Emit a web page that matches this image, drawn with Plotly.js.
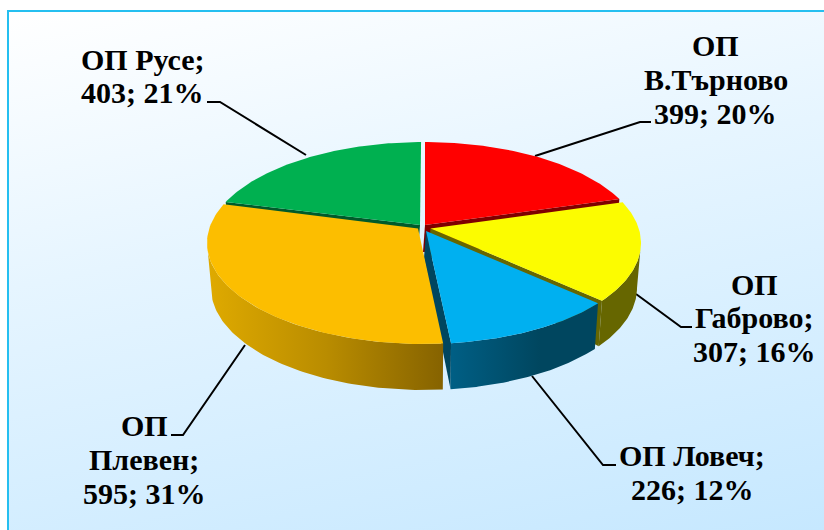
<!DOCTYPE html>
<html>
<head>
<meta charset="utf-8">
<script src="https://cdn.plot.ly/plotly-3.0.0.min.js"></script>
<style>
html,body{margin:0;padding:0;background:#fff;overflow:hidden}
#frame{position:absolute;left:7px;top:10px;width:817px;height:520px;box-sizing:border-box;
 border-left:2px solid #25bff0;border-top:2px solid #25bff0;
 background:linear-gradient(168deg,#ffffff 0%,#e6f5ff 40%,#c6e8ff 100%)}
#chart{position:absolute;left:0;top:0;width:824px;height:530px}
</style>
</head>
<body>
<div id="frame"></div>
<div id="chart"></div>
<script>
// ---- data ----
const categories = [['ОП', 'В.Търново'], ['ОП', 'Габрово;'], ['ОП Ловеч;'], ['ОП', 'Плевен;'], ['ОП Русе;']];
const values = [399, 307, 226, 595, 403];
const percents = [20, 16, 12, 31, 21];

// ---- drawing styles ----
const topColors = ['#ff0000', '#fcfc00', '#00b0f0', '#fcbe00', '#00b050'];
const sideColors = ['#7f0000', '#666600', '#00465f', '#8a6500', '#005a2a'];
const apexes = [[425, 225], [430.5, 228.5], [426, 231], [418, 228.5], [420, 225]];
const trims = [[0.3, 2.2], [0, 0], [1.6, 0], [1.8, 0.5], [1.0, 0.9]];
const labelX = [715.5, 754, 692, 144, 142.5];
const labelY = [[45.5, 79, 113], [284.5, 317.5, 351.5], [455, 489], [425, 459.5, 493], [59, 92]];
const leaders = [
  {x: [651, 640, 535], y: [122, 122, 156]},
  {x: [692, 681, 636], y: [327, 327, 294]},
  {x: [616, 603, 532], y: [465, 465, 376]},
  {x: [171, 183, 245], y: [435, 435, 345]},
  {x: [207, 220, 306], y: [102, 102, 155]}
];

// ---- projection of the tilted disc ----
const K = -0.15;
const topDisc = {cx: 424, cy: 243, rx: 217, ry: 101};
const botDisc = {cx: 424, cy: 288, rx: 213, ry: 102};
const wallFrom = 98.6, wallTo = 261.4; // the part of the rim that faces the viewer
function pt(disc, deg) {
  const a = deg * Math.PI / 180, S = Math.sin(a), Y = -Math.cos(a), d = 1 + K * Y;
  return [disc.cx + disc.rx * S * Math.sqrt(1 - K * K) / d, disc.cy + disc.ry * (Y + K) / d];
}
function arc(disc, a0, a1) {
  const out = [], n = 80;
  for (let i = 0; i <= n; i++) out.push(pt(disc, a0 + (a1 - a0) * i / n));
  return out;
}
function poly(points, color, extra) {
  return Object.assign({
    type: 'scatter', mode: 'lines', fill: 'toself', fillcolor: color,
    x: points.map(p => p[0]), y: points.map(p => p[1]),
    line: {width: 0, color: color}, hoverinfo: 'skip', showlegend: false
  }, extra || {});
}

const total = values.reduce((a, b) => a + b, 0);
let acc = 0;
const slices = values.map((v, i) => {
  const a0 = acc / total * 360 + trims[i][0];
  acc += v;
  const a1 = acc / total * 360 - trims[i][1];
  return {a0, a1, i};
});

function sideTrace(s) {
  const b0 = Math.max(s.a0, wallFrom), b1 = Math.min(s.a1, wallTo);
  const pts = arc(topDisc, b0, b1).concat(arc(botDisc, b1, b0));
  const extra = {};
  if (s.i === 3) extra.fillgradient = {type: 'horizontal', start: 208, stop: 445,
    colorscale: [[0, '#dfaa00'], [0.5, '#b98c00'], [1, '#856200']]};
  if (s.i === 2) extra.fillgradient = {type: 'horizontal', start: 450, stop: 540,
    colorscale: [[0, '#005f85'], [1, '#00465f']]};
  return poly(pts, sideColors[s.i], extra);
}
function topTrace(s) {
  return poly([apexes[s.i]].concat(arc(topDisc, s.a0, s.a1)), topColors[s.i]);
}
function cutFace(s, deg) {
  const ap = apexes[s.i], o = pt(topDisc, deg), b = pt(botDisc, deg);
  return poly([ap, o, b, [ap[0] - 2, ap[1] + 27]], sideColors[s.i]);
}

const traces = [];
leaders.forEach(l => traces.push({
  type: 'scatter', mode: 'lines', x: l.x, y: l.y,
  line: {color: '#000', width: 2}, hoverinfo: 'skip', showlegend: false
}));
// back to front
[4, 0].forEach(i => {
  const s = slices[i];
  traces.push(cutFace(s, i === 4 ? s.a0 : s.a1));
  traces.push(topTrace(s));
});
[1, 2, 3].forEach(i => {
  const s = slices[i];
  if (i === 1 || i === 2) traces.push(cutFace(s, s.a1));
  traces.push(sideTrace(s));
  traces.push(topTrace(s));
});

const annotations = [];
categories.forEach((lines, i) => {
  lines.concat([values[i] + '; ' + percents[i] + '%']).forEach((line, j) => {
    annotations.push({
      x: labelX[i], y: labelY[i][j], xref: 'x', yref: 'y',
      text: '<b>' + line + '</b>',
      showarrow: false, align: 'center', xanchor: 'center', yanchor: 'middle',
      font: {family: '"Liberation Serif", serif', size: 30, color: '#000'}
    });
  });
});

Plotly.newPlot('chart', traces, {
  width: 824, height: 530,
  margin: {l: 0, r: 0, t: 0, b: 0},
  paper_bgcolor: 'rgba(0,0,0,0)', plot_bgcolor: 'rgba(0,0,0,0)',
  xaxis: {range: [0, 824], visible: false, fixedrange: true},
  yaxis: {range: [530, 0], visible: false, fixedrange: true},
  showlegend: false,
  annotations: annotations
}, {displayModeBar: false});
</script>
</body>
</html>
